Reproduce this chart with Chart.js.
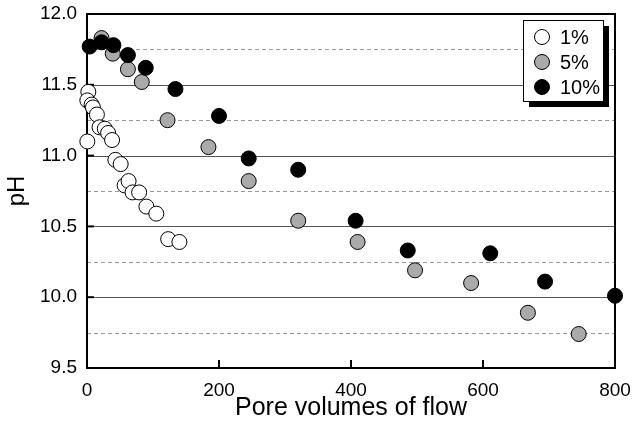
<!DOCTYPE html>
<html>
<head>
<meta charset="utf-8">
<script src="https://cdn.jsdelivr.net/npm/chart.js@4/dist/chart.umd.min.js"></script>
<style>
  body { margin: 0; background: #fff; }
  canvas { display: block; }
</style>
</head>
<body>
<canvas id="phChart" width="632" height="432"></canvas>
<script>
// Values
const seriesNames = ['1%', '5%', '10%'];

const flow1 = [2, 0.5, 7, 9, 15, 19, 27, 32, 38, 0.5, 43, 51, 57, 63, 69, 79, 90, 105, 123, 140];
const ph1 = [11.45, 11.39, 11.36, 11.34, 11.29, 11.20, 11.19, 11.16, 11.11, 11.10, 10.97, 10.94, 10.79, 10.82, 10.74, 10.74, 10.64, 10.59, 10.41, 10.39];

const flow5 = [22, 39, 62, 83, 122, 184, 245, 320, 410, 497, 582, 668, 745];
const ph5 = [11.83, 11.72, 11.61, 11.52, 11.25, 11.06, 10.82, 10.54, 10.39, 10.19, 10.10, 9.89, 9.74];

const flow10 = [4, 22, 40, 62, 89, 134, 200, 245, 320, 407, 486, 611, 694, 800];
const ph10 = [11.77, 11.80, 11.78, 11.71, 11.62, 11.47, 11.28, 10.98, 10.90, 10.54, 10.33, 10.31, 10.11, 10.01];

const xTickValues = [0, 200, 400, 600, 800];
const yTickValues = [9.5, 10.0, 10.5, 11.0, 11.5, 12.0];
const solidGrid = [10.0, 10.5, 11.0, 11.5];
const dashedGrid = [9.75, 10.25, 10.75, 11.25, 11.75];

const fills = ['#ffffff', '#aaaaaa', '#000000'];

function toPoints(xs, ys) {
  return xs.map((x, i) => ({ x: x, y: ys[i] }));
}

// grid lines, frame and inward ticks, drawn under the points
const framePlugin = {
  id: 'frame',
  beforeDatasetsDraw(chart) {
    const { ctx, chartArea: a, scales: { x, y } } = chart;
    ctx.save();
    ctx.lineWidth = 1;
    ctx.strokeStyle = '#999';
    ctx.setLineDash([4, 3]);
    dashedGrid.forEach(v => {
      const py = Math.round(y.getPixelForValue(v)) + 0.5;
      ctx.beginPath(); ctx.moveTo(a.left, py); ctx.lineTo(a.right, py); ctx.stroke();
    });
    ctx.setLineDash([]);
    ctx.strokeStyle = '#555';
    solidGrid.forEach(v => {
      const py = Math.round(y.getPixelForValue(v)) + 0.5;
      ctx.beginPath(); ctx.moveTo(a.left, py); ctx.lineTo(a.right, py); ctx.stroke();
    });

    // inward tick marks
    ctx.strokeStyle = '#000';
    ctx.lineWidth = 2;
    solidGrid.forEach(v => {
      const py = y.getPixelForValue(v);
      ctx.beginPath(); ctx.moveTo(a.left, py); ctx.lineTo(a.left + 7, py); ctx.stroke();
    });
    xTickValues.slice(1, -1).forEach(v => {
      const px = x.getPixelForValue(v);
      ctx.beginPath(); ctx.moveTo(px, a.bottom); ctx.lineTo(px, a.bottom - 8); ctx.stroke();
    });

    ctx.strokeRect(a.left, a.top, a.right - a.left, a.bottom - a.top);
    ctx.restore();
  }
};

// boxed legend with drop shadow in the upper right corner
const legendPlugin = {
  id: 'boxLegend',
  afterDraw(chart) {
    const { ctx } = chart;
    const bx = 523, by = 20, bw = 80, bh = 81;
    ctx.save();
    ctx.fillStyle = '#000';
    ctx.fillRect(bx + 6, by + 6, bw, bh);
    ctx.fillStyle = '#fff';
    ctx.fillRect(bx, by, bw, bh);
    ctx.strokeStyle = '#000';
    ctx.lineWidth = 1;
    ctx.strokeRect(bx + 0.5, by + 0.5, bw, bh);

    ctx.font = '20px "Liberation Sans", Arial, sans-serif';
    ctx.textBaseline = 'middle';
    ctx.textAlign = 'left';
    seriesNames.forEach((name, i) => {
      const cy = 37 + i * 25;
      ctx.beginPath();
      ctx.arc(542, cy, 7.5, 0, Math.PI * 2);
      ctx.fillStyle = fills[i];
      ctx.fill();
      ctx.strokeStyle = '#000';
      ctx.stroke();
      ctx.fillStyle = '#000';
      ctx.fillText(name, 560, cy + 1);
    });
    ctx.restore();
  }
};

const pointStyle = (i, order) => ({
  label: seriesNames[i],
  backgroundColor: fills[i],
  borderColor: '#000',
  borderWidth: 1,
  pointRadius: 7.5,
  pointHoverRadius: 7.5,
  showLine: false,
  clip: false,
  order: order
});

new Chart(document.getElementById('phChart'), {
  type: 'scatter',
  data: {
    datasets: [
      Object.assign({ data: toPoints(flow1, ph1) }, pointStyle(0, 3)),
      Object.assign({ data: toPoints(flow5, ph5) }, pointStyle(1, 2)),
      Object.assign({ data: toPoints(flow10, ph10) }, pointStyle(2, 1))
    ]
  },
  options: {
    responsive: false,
    animation: false,
    layout: { padding: { top: 14, right: 17, bottom: 0, left: 0 } },
    plugins: {
      legend: { display: false },
      tooltip: { enabled: false }
    },
    scales: {
      x: {
        type: 'linear',
        min: 0,
        max: 800,
        afterBuildTicks: s => { s.ticks = xTickValues.map(v => ({ value: v })); },
        grid: { display: false, drawTicks: false },
        border: { display: false },
        ticks: {
          padding: 11,
          color: '#000',
          font: { family: '"Liberation Sans", Arial, sans-serif', size: 19 }
        },
        title: {
          display: true,
          text: 'Pore volumes of flow',
          color: '#000',
          font: { family: '"Liberation Sans", Arial, sans-serif', size: 25 },
          padding: { top: 0, bottom: 9 }
        },
        afterFit: s => {
          s.height = 64;
          s.paddingLeft = 0;
          s.paddingRight = 0;
        }
      },
      y: {
        type: 'linear',
        min: 9.5,
        max: 12,
        afterBuildTicks: s => { s.ticks = yTickValues.map(v => ({ value: v })); },
        grid: { display: false, drawTicks: false },
        border: { display: false },
        ticks: {
          padding: 10,
          color: '#000',
          callback: v => v.toFixed(1),
          font: { family: '"Liberation Sans", Arial, sans-serif', size: 19 }
        },
        title: {
          display: true,
          text: 'pH',
          color: '#000',
          font: { family: '"Liberation Sans", Arial, sans-serif', size: 24 },
          padding: { top: 3, bottom: 0 }
        },
        afterFit: s => {
          s.width = 87;
          s.paddingTop = 0;
          s.paddingBottom = 0;
        }
      }
    }
  },
  plugins: [framePlugin, legendPlugin]
});
</script>
</body>
</html>
